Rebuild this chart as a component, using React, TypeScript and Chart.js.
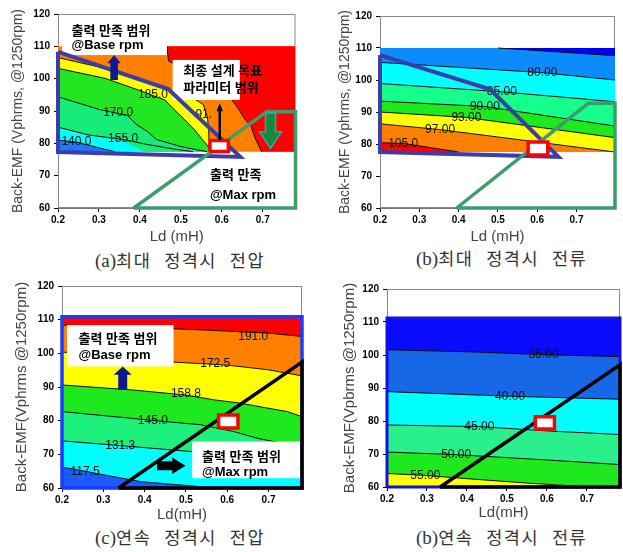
import React, { useEffect, useRef } from 'react';
import { Chart, registerables } from 'chart.js';

Chart.register(...registerables);

type Pt = [number, number];

// ---------------- shared axes ----------------
const X_MIN = 0.2;
const Y_MIN = 60;
const Y_MAX = 120;
const X_TICKS = [0.2, 0.3, 0.4, 0.5, 0.6, 0.7];
const Y_TICKS = [60, 70, 80, 90, 100, 110, 120];

// ---------------- (a) 최대 정격시 전압 ----------------
const A_X_MAX = 0.78;
const A_FLOOR = 77.4;
const A_TOP_EDGE: Pt[] = [[0.2, 110], [0.78, 110]];
const A_RED_EDGE: Pt[] = [[0.466, 110], [0.47, 105.5], [0.6, 96], [0.625, 93.4], [0.64, 90.8], [0.655, 87.7], [0.672, 85.1], [0.68, 82], [0.693, 78.5], [0.697, 77.4], [0.78, 77.4]];
const A_191_EDGE: Pt[] = [[0.2, 106.5], [0.315, 103.2], [0.42, 98.8], [0.48, 96], [0.53, 94], [0.555, 92], [0.565, 88], [0.568, 84], [0.57, 77.4]];
const A_185_EDGE: Pt[] = [[0.2, 103.2], [0.315, 100.1], [0.396, 96.5], [0.461, 93.4], [0.485, 90.3], [0.51, 87.2], [0.534, 84.1], [0.55, 81.6], [0.567, 79], [0.575, 77.4]];
const A_170_EDGE: Pt[] = [[0.2, 94.4], [0.3, 90.5], [0.37, 88.6], [0.39, 86], [0.42, 83.5], [0.44, 81.2], [0.5, 79], [0.54, 78], [0.565, 77.4]];
const A_CYAN_EDGE: Pt[] = [[0.2, 84.8], [0.274, 82.4], [0.359, 80.8], [0.412, 77.4]];
const A_155_LINE: Pt[] = [[0.2, 85], [0.274, 82.6], [0.359, 81.2], [0.42, 79.6], [0.48, 78.3], [0.53, 77.4]];
const A_140_EDGE: Pt[] = [[0.2, 81], [0.245, 80.4], [0.3, 78.6], [0.34, 77.4]];
const A_LABEL_TEXT = ['185.0', '170.0', '155.0', '140.0', '91.'];
const A_LABEL_AT: Pt[] = [[0.432, 94.9], [0.347, 89.6], [0.359, 81.3], [0.245, 80.5], [0.556, 88.8]];
const A_BLUE_FRAME: Pt[] = [[0.2, 108.3], [0.469, 96.8], [0.645, 75.8], [0.2, 77.3], [0.2, 108.3]];
const A_GREEN_FRAME: Pt[] = [[0.385, 60], [0.71, 89.8], [0.78, 89.8], [0.78, 60], [0.385, 60]];
const A_TARGET_X: Pt = [0.571, 0.616];
const A_TARGET_Y: Pt = [77.5, 80.9];

// ---------------- (b) 최대 정격시 전류 ----------------
const B_X_MAX = 0.798;
const B_FLOOR = 77.5;
const B_TOP_EDGE: Pt[] = [[0.2, 110], [0.798, 110]];
const B_DARK_EDGE: Pt[] = [[0.5, 110], [0.798, 107.6]];
const B_80: Pt[] = [[0.2, 105.5], [0.613, 102.3], [0.798, 100.0]];
const B_85: Pt[] = [[0.2, 98.9], [0.51, 96.3], [0.798, 93.2]];
const B_90: Pt[] = [[0.2, 93.4], [0.467, 91.7], [0.798, 85.6]];
const B_93: Pt[] = [[0.2, 90.0], [0.42, 88.3], [0.798, 82.0]];
const B_97: Pt[] = [[0.2, 86.3], [0.353, 84.5], [0.798, 77.5]];
const B_105: Pt[] = [[0.2, 80.4], [0.259, 80.2], [0.4, 77.5]];
const B_LABEL_TEXT = ['80.00', '85.00', '90.00', '93.00', '97.00', '105.0'];
const B_LABEL_AT: Pt[] = [[0.613, 102.3], [0.51, 96.3], [0.467, 91.7], [0.42, 88.3], [0.353, 84.5], [0.259, 80.2]];
const B_BLUE_FRAME: Pt[] = [[0.2, 107.8], [0.48, 97.1], [0.654, 76], [0.2, 77.5], [0.2, 107.8]];
const B_GREEN_FRAME: Pt[] = [[0.395, 60], [0.73, 92.7], [0.798, 92.7], [0.798, 60], [0.395, 60]];
const B_TARGET_X: Pt = [0.577, 0.627];
const B_TARGET_Y: Pt = [76.6, 80.6];

// ---------------- (c) 연속 정격시 전압 ----------------
const C_X_MAX = 0.781;
const C_FLOOR = 60;
const C_TOP_EDGE: Pt[] = [[0.2, 110.9], [0.781, 110.9]];
const C_191: Pt[] = [[0.2, 108.4], [0.4, 107.6], [0.55, 106.9], [0.7, 106.0], [0.781, 105.0]];
const C_172: Pt[] = [[0.2, 100.4], [0.47, 97.4], [0.6, 96.5], [0.7, 95.1], [0.781, 93.3]];
const C_158: Pt[] = [[0.2, 90.6], [0.373, 89.1], [0.5, 87.6], [0.567, 86.2], [0.632, 85.2], [0.69, 83.9], [0.745, 82.7], [0.781, 81.2]];
const C_145: Pt[] = [[0.2, 82.7], [0.418, 80.1], [0.535, 78.8], [0.615, 76.8], [0.672, 74.8], [0.72, 73.6], [0.781, 72.8]];
const C_131: Pt[] = [[0.2, 74.0], [0.341, 72.6], [0.515, 70.8], [0.65, 69.4], [0.781, 68.3]];
const C_117: Pt[] = [[0.2, 66.2], [0.256, 65], [0.293, 64.1], [0.39, 61.9], [0.535, 60.4], [0.63, 60]];
const C_LABEL_TEXT = ['191.0', '172.5', '158.8', '145.0', '131.3', '117.5'];
const C_LABEL_AT: Pt[] = [[0.663, 105.0], [0.571, 96.8], [0.5, 87.9], [0.42, 80.0], [0.341, 72.6], [0.256, 64.8]];
const C_BLUE_FRAME: Pt[] = [[0.2, 60], [0.2, 110.9], [0.781, 110.9], [0.781, 60], [0.2, 60]];
const C_BLACK_FRAME: Pt[] = [[0.337, 60], [0.781, 97.4], [0.781, 60], [0.337, 60]];
const C_TARGET_X: Pt = [0.579, 0.626];
const C_TARGET_Y: Pt = [77.8, 81.7];

// ---------------- (d) 연속 정격시 전류 ----------------
const D_X_MAX = 0.783;
const D_FLOOR = 60;
const D_TOP_EDGE: Pt[] = [[0.2, 111.2], [0.783, 111.2]];
const D_35: Pt[] = [[0.2, 101.6], [0.425, 100.9], [0.592, 100.1], [0.783, 99.5]];
const D_40: Pt[] = [[0.2, 88.9], [0.508, 87.5], [0.783, 86.6]];
const D_45: Pt[] = [[0.2, 78.8], [0.431, 78.3], [0.6, 77], [0.783, 75.9]];
const D_50: Pt[] = [[0.2, 70.6], [0.373, 69.8], [0.6, 68.2], [0.783, 66.8]];
const D_55: Pt[] = [[0.2, 64.1], [0.296, 63.5], [0.425, 62.3], [0.55, 61.2], [0.68, 60.2], [0.72, 60]];
const D_LABEL_TEXT = ['35.00', '40.00', '45.00', '50.00', '55.00'];
const D_LABEL_AT: Pt[] = [[0.592, 100.0], [0.508, 87.5], [0.431, 78.3], [0.373, 69.8], [0.296, 63.5]];
const D_BLUE_FRAME: Pt[] = [[0.2, 60], [0.2, 111.2], [0.783, 111.2], [0.783, 60], [0.2, 60]];
const D_BLACK_FRAME: Pt[] = [[0.333, 60], [0.783, 97.0], [0.783, 60], [0.333, 60]];
const D_TARGET_X: Pt = [0.571, 0.619];
const D_TARGET_Y: Pt = [77.6, 81.3];

// ---------------- annotation texts ----------------
const TXT_BASE = ['출력 만족 범위', '@Base rpm'];
const TXT_GOAL = ['최종 설계 목표', '파라미터 범위'];
const TXT_MAX_A = ['출력 만족', '@Max rpm'];
const TXT_MAX_C = ['출력 만족 범위', '@Max rpm'];
const CAPTION_TAGS = ['(a)', '(b)', '(c)', '(b)'];
const CAPTION_TEXTS = ['최대 정격시 전압', '최대 정격시 전류', '연속 정격시 전압', '연속 정격시 전류'];

// ---------------- styles ----------------
const RED = '#ff0000';
const ORANGE = '#ff8000';
const YELLOW = '#ffff00';
const GREEN = '#1ee81e';
const SPRING = '#1ef07c';
const CYAN = '#00ffff';
const LINE_COLOR = '#111111';
const LBL_FONT = "12px 'Liberation Sans', Arial, sans-serif";
const BOX_FONT = "bold 13px 'Liberation Sans', 'Noto Sans CJK KR', sans-serif";
const TICK_FONT = { family: "'Liberation Sans', Arial, sans-serif", size: 10, weight: 'bold' as const };

interface Layer { edge: Pt[]; color: string; to: number }
interface Outline { pts: Pt[]; color: string; width: number }
interface Box { x: Pt; y: Pt | null; lines: string[]; textX: number; textY: number[] }
interface Arrow { from: Pt; to: Pt; shaft: number; head: number; headLen: number; fill: string; stroke?: string }
interface Frame { cx: number; cy: number; w: number; h: number; L: number; T: number; R: number; B: number; ySize: number; yPad: number; xSize: number; xPad: number }
interface Panel {
  xMax: number; layers: Layer[]; contours: Pt[][]; labels: string[]; labelAt: Pt[];
  boxes: Box[]; outlines: Outline[]; targetX: Pt; targetY: Pt; arrows: Arrow[];
  yTitle: string; xTitle: string; frame: Frame;
}

const PANELS: Panel[] = [
  {
    xMax: A_X_MAX,
    layers: [
      { edge: A_TOP_EDGE, color: ORANGE, to: A_FLOOR },
      { edge: A_RED_EDGE, color: RED, to: 110 },
      { edge: A_191_EDGE, color: YELLOW, to: A_FLOOR },
      { edge: A_185_EDGE, color: '#22e622', to: A_FLOOR },
      { edge: A_170_EDGE, color: '#18ec78', to: A_FLOOR },
      { edge: A_CYAN_EDGE, color: CYAN, to: A_FLOOR },
      { edge: A_140_EDGE, color: '#1e78ff', to: A_FLOOR },
    ],
    contours: [A_RED_EDGE.slice(0, -1), A_191_EDGE, A_185_EDGE, A_170_EDGE, A_155_LINE, A_140_EDGE],
    labels: A_LABEL_TEXT, labelAt: A_LABEL_AT,
    boxes: [
      { x: [0.21, 0.466], y: [107.3, 118.1], lines: TXT_BASE, textX: 0.233, textY: [114.5, 110.4] },
      { x: [0.48, 0.644], y: [93.4, 105.8], lines: TXT_GOAL, textX: 0.506, textY: [102.2, 97.0] },
      { x: [0.571, 0.571], y: null, lines: TXT_MAX_A, textX: 0.571, textY: [70.2, 64.0] },
    ],
    outlines: [
      { pts: A_BLUE_FRAME, color: '#3c3caa', width: 4 },
      { pts: A_GREEN_FRAME, color: '#3c9c6c', width: 3.5 },
    ],
    targetX: A_TARGET_X, targetY: A_TARGET_Y,
    arrows: [
      { from: [0.337, 99.6], to: [0.337, 107.3], shaft: 3.8, head: 6.7, headLen: 8.3, fill: '#0b1a8c' },
      { from: [0.595, 81], to: [0.595, 92.4], shaft: 1.2, head: 3.2, headLen: 8, fill: '#000000' },
      { from: [0.719, 89.3], to: [0.719, 78.5], shaft: 5, head: 11, headLen: 16.5, fill: '#168a3a', stroke: '#3aa0a0' },
    ],
    yTitle: 'Back-EMF (Vphrms, @1250rpm)', xTitle: 'Ld (mH)',
    frame: { cx: 0, cy: 0, w: 311, h: 248, L: 58, T: 14, R: 295.5, B: 208, ySize: 14, yPad: 9.6, xSize: 15, xPad: 2 },
  },
  {
    xMax: B_X_MAX,
    layers: [
      { edge: B_TOP_EDGE, color: '#0a8cff', to: B_FLOOR },
      { edge: B_DARK_EDGE, color: '#0000f0', to: 110 },
      { edge: B_80, color: CYAN, to: B_FLOOR },
      { edge: B_85, color: '#14ff8c', to: B_FLOOR },
      { edge: B_90, color: GREEN, to: B_FLOOR },
      { edge: B_93, color: YELLOW, to: B_FLOOR },
      { edge: B_97, color: ORANGE, to: B_FLOOR },
      { edge: B_105, color: RED, to: B_FLOOR },
    ],
    contours: [B_DARK_EDGE, B_80, B_85, B_90, B_93, B_97, B_105],
    labels: B_LABEL_TEXT, labelAt: B_LABEL_AT,
    boxes: [],
    outlines: [
      { pts: B_BLUE_FRAME, color: '#3c3caa', width: 4 },
      { pts: B_GREEN_FRAME, color: '#3c9c6c', width: 3.5 },
    ],
    targetX: B_TARGET_X, targetY: B_TARGET_Y,
    arrows: [],
    yTitle: 'Back-EMF (Vphrms, @1250rpm)', xTitle: 'Ld (mH)',
    frame: { cx: 311, cy: 0, w: 312, h: 248, L: 380, T: 16, R: 615, B: 208, ySize: 14, yPad: 25.6, xSize: 15, xPad: 2 },
  },
  {
    xMax: C_X_MAX,
    layers: [
      { edge: C_TOP_EDGE, color: RED, to: C_FLOOR },
      { edge: C_191, color: ORANGE, to: C_FLOOR },
      { edge: C_172, color: YELLOW, to: C_FLOOR },
      { edge: C_158, color: GREEN, to: C_FLOOR },
      { edge: C_145, color: SPRING, to: C_FLOOR },
      { edge: C_131, color: CYAN, to: C_FLOOR },
      { edge: C_117, color: '#1a5cff', to: C_FLOOR },
    ],
    contours: [C_191, C_172, C_158, C_145, C_131, C_117],
    labels: C_LABEL_TEXT, labelAt: C_LABEL_AT,
    boxes: [
      { x: [0.212, 0.47], y: [96.1, 108.4], lines: TXT_BASE, textX: 0.24, textY: [104.0, 99.5] },
      { x: [0.515, 0.781], y: [62.9, 73.8], lines: TXT_MAX_C, textX: 0.539, textY: [69.1, 64.6] },
    ],
    outlines: [
      { pts: C_BLUE_FRAME, color: '#1a3cff', width: 3.5 },
      { pts: C_BLACK_FRAME, color: '#000000', width: 3.5 },
    ],
    targetX: C_TARGET_X, targetY: C_TARGET_Y,
    arrows: [
      { from: [0.347, 89.2], to: [0.347, 96.1], shaft: 4.5, head: 9, headLen: 8.3, fill: '#0b1a8c' },
      { from: [0.43, 66.6], to: [0.499, 66.6], shaft: 4.5, head: 8.3, headLen: 13.3, fill: '#000000' },
    ],
    yTitle: 'Back-EMF(Vphrms @1250rpm)', xTitle: 'Ld(mH)',
    frame: { cx: 0, cy: 276, w: 311, h: 248, L: 62, T: 286, R: 302, B: 488, ySize: 15, yPad: 13, xSize: 15, xPad: 0 },
  },
  {
    xMax: D_X_MAX,
    layers: [
      { edge: D_TOP_EDGE, color: '#0a0aff', to: D_FLOOR },
      { edge: D_35, color: '#1668e6', to: D_FLOOR },
      { edge: D_40, color: CYAN, to: D_FLOOR },
      { edge: D_45, color: '#2af08c', to: D_FLOOR },
      { edge: D_50, color: GREEN, to: D_FLOOR },
      { edge: D_55, color: YELLOW, to: D_FLOOR },
    ],
    contours: [D_35, D_40, D_45, D_50, D_55],
    labels: D_LABEL_TEXT, labelAt: D_LABEL_AT,
    boxes: [],
    outlines: [
      { pts: D_BLUE_FRAME, color: '#1010e0', width: 3 },
      { pts: D_BLACK_FRAME, color: '#000000', width: 3.5 },
    ],
    targetX: D_TARGET_X, targetY: D_TARGET_Y,
    arrows: [],
    yTitle: 'Back-EMF(Vpbrms @1250rpm)', xTitle: 'Ld(mH)',
    frame: { cx: 311, cy: 276, w: 312, h: 248, L: 387, T: 289, R: 620, B: 487, ySize: 15, yPad: 30, xSize: 15, xPad: 2 },
  },
];

const CAPTION_POS: Pt[] = [[95, 250.5], [416, 248.5], [95, 528], [416, 528]];

const toXY = (pts: Pt[]) => pts.map(([x, y]) => ({ x, y }));

function drawArrow(ctx: CanvasRenderingContext2D, x0: number, y0: number, x1: number, y1: number, a: Arrow) {
  const dx = x1 - x0, dy = y1 - y0;
  const len = Math.hypot(dx, dy) || 1;
  const ux = dx / len, uy = dy / len;
  const px = -uy, py = ux;
  const bx = x1 - ux * a.headLen, by = y1 - uy * a.headLen;
  ctx.beginPath();
  ctx.moveTo(x0 + px * a.shaft, y0 + py * a.shaft);
  ctx.lineTo(bx + px * a.shaft, by + py * a.shaft);
  ctx.lineTo(bx + px * a.head, by + py * a.head);
  ctx.lineTo(x1, y1);
  ctx.lineTo(bx - px * a.head, by - py * a.head);
  ctx.lineTo(bx - px * a.shaft, by - py * a.shaft);
  ctx.lineTo(x0 - px * a.shaft, y0 - py * a.shaft);
  ctx.closePath();
  ctx.fillStyle = a.fill;
  ctx.fill();
  if (a.stroke) {
    ctx.strokeStyle = a.stroke;
    ctx.lineWidth = 1.6;
    ctx.stroke();
  }
}

function buildConfig(p: Panel): any {
  const datasets: any[] = [];
  const base = { pointRadius: 0, pointHoverRadius: 0, tension: 0 };
  p.layers.forEach((l) => {
    datasets.push({ ...base, data: toXY(l.edge), fill: { value: l.to }, backgroundColor: l.color, borderColor: 'rgba(0,0,0,0)', borderWidth: 0 });
  });
  p.contours.forEach((c) => {
    datasets.push({ ...base, data: toXY(c), fill: false, borderColor: LINE_COLOR, borderWidth: 1 });
  });
  const underCount = datasets.length;
  const [tx0, tx1] = p.targetX;
  const [ty0, ty1] = p.targetY;
  p.outlines.forEach((o) => {
    datasets.push({ ...base, data: toXY(o.pts), fill: false, borderColor: o.color, borderWidth: o.width, borderJoinStyle: 'miter', clip: false });
  });
  datasets.push({ ...base, data: toXY([[tx0, ty1], [tx1, ty1]]), fill: { value: ty0 }, backgroundColor: '#ffffff', borderColor: 'rgba(0,0,0,0)', borderWidth: 0, clip: false });
  datasets.push({ ...base, data: toXY([[tx0, ty0], [tx0, ty1], [tx1, ty1], [tx1, ty0], [tx0, ty0]]), fill: false, borderColor: RED, borderWidth: 3.5, borderJoinStyle: 'miter', clip: false });
  datasets.forEach((d, i) => { d.order = datasets.length - i; });

  const f = p.frame;
  const decor = {
    id: 'decor',
    beforeDatasetsDraw(chart: any) {
      const { ctx, chartArea: a } = chart;
      ctx.save();
      ctx.strokeStyle = '#8a8a8a';
      ctx.lineWidth = 1;
      ctx.strokeRect(a.left + 0.5, a.top + 0.5, a.right - a.left - 1, a.bottom - a.top - 1);
      ctx.restore();
    },
    afterDatasetDraw(chart: any, args: any) {
      if (args.index !== underCount - 1) return;
      const xs = chart.scales.x, ys = chart.scales.y, ctx = chart.ctx;
      ctx.save();
      ctx.font = LBL_FONT;
      ctx.fillStyle = '#111';
      ctx.textAlign = 'center';
      ctx.textBaseline = 'middle';
      p.labels.forEach((t, i) => {
        const [lx, ly] = p.labelAt[i];
        ctx.fillText(t, xs.getPixelForValue(lx), ys.getPixelForValue(ly));
      });
      p.boxes.forEach((b) => {
        if (b.y) {
          const x0 = xs.getPixelForValue(b.x[0]), x1 = xs.getPixelForValue(b.x[1]);
          const y0 = ys.getPixelForValue(b.y[1]), y1 = ys.getPixelForValue(b.y[0]);
          ctx.fillStyle = '#ffffff';
          ctx.fillRect(x0, y0, x1 - x0, y1 - y0);
        }
        ctx.fillStyle = '#000';
        ctx.font = BOX_FONT;
        ctx.textAlign = 'left';
        b.lines.forEach((t, i) => {
          ctx.fillText(t, xs.getPixelForValue(b.textX), ys.getPixelForValue(b.textY[i]));
        });
      });
      ctx.restore();
    },
    afterDatasetsDraw(chart: any) {
      const xs = chart.scales.x, ys = chart.scales.y, ctx = chart.ctx;
      ctx.save();
      p.arrows.forEach((a) => {
        drawArrow(ctx, xs.getPixelForValue(a.from[0]), ys.getPixelForValue(a.from[1]), xs.getPixelForValue(a.to[0]), ys.getPixelForValue(a.to[1]), a);
      });
      ctx.restore();
    },
  };

  const gridOpts = { display: true, drawOnChartArea: false, drawTicks: true, tickLength: 4, color: '#000' };
  const borderOpts = { display: true, color: '#777', width: 1 };
  return {
    type: 'line',
    data: { datasets },
    plugins: [decor],
    options: {
      responsive: false,
      animation: false,
      events: [],
      layout: { padding: { left: 0, top: f.T - f.cy, right: f.cx + f.w - f.R, bottom: 0 } },
      plugins: { legend: { display: false }, tooltip: { enabled: false } },
      scales: {
        x: {
          type: 'linear', min: X_MIN, max: p.xMax,
          afterBuildTicks: (s: any) => { s.ticks = X_TICKS.map((v) => ({ value: v })); },
          afterFit: (s: any) => { s.height = f.cy + f.h - f.B; },
          ticks: { callback: (v: any) => Number(v).toFixed(1), font: TICK_FONT, color: '#000', padding: 2, maxRotation: 0, autoSkip: false },
          grid: gridOpts, border: borderOpts,
          title: { display: true, text: p.xTitle, color: '#444', font: { family: "'Liberation Sans', Arial, sans-serif", size: f.xSize }, padding: { top: 0, bottom: f.xPad } },
        },
        y: {
          type: 'linear', min: Y_MIN, max: Y_MAX,
          afterBuildTicks: (s: any) => { s.ticks = Y_TICKS.map((v) => ({ value: v })); },
          afterFit: (s: any) => { s.width = f.L - f.cx; },
          ticks: { callback: (v: any) => String(v), font: TICK_FONT, color: '#000', padding: 4, autoSkip: false },
          grid: gridOpts, border: borderOpts,
          title: { display: true, text: p.yTitle, color: '#444', font: { family: "'Liberation Sans', Arial, sans-serif", size: f.ySize }, padding: { top: f.yPad, bottom: 0 } },
        },
      },
    },
  };
}

function PanelChart({ panel }: { panel: Panel }) {
  const ref = useRef<HTMLCanvasElement | null>(null);
  useEffect(() => {
    if (!ref.current) return;
    const chart = new Chart(ref.current, buildConfig(panel));
    return () => chart.destroy();
  }, [panel]);
  const f = panel.frame;
  return (
    <canvas
      ref={ref}
      width={f.w}
      height={f.h}
      style={{ position: 'absolute', left: f.cx, top: f.cy, width: f.w, height: f.h }}
    />
  );
}

export default function App() {
  return (
    <div style={{ position: 'absolute', left: 0, top: 0, width: 623, height: 552, background: '#fff', overflow: 'hidden' }}>
      {PANELS.map((p, i) => (
        <PanelChart key={i} panel={p} />
      ))}
      {CAPTION_TEXTS.map((c, i) => (
        <div
          key={'cap' + i}
          style={{
            position: 'absolute', left: CAPTION_POS[i][0], top: CAPTION_POS[i][1],
            fontFamily: "'Liberation Serif', 'Noto Sans CJK KR', serif", fontSize: 17.5, lineHeight: '20px',
            color: '#333', whiteSpace: 'nowrap',
          }}
        >
          <span style={{ fontSize: 19 }}>{CAPTION_TAGS[i]}</span>
          <span style={{ letterSpacing: 1.5, wordSpacing: 7 }}>{c}</span>
        </div>
      ))}
    </div>
  );
}
